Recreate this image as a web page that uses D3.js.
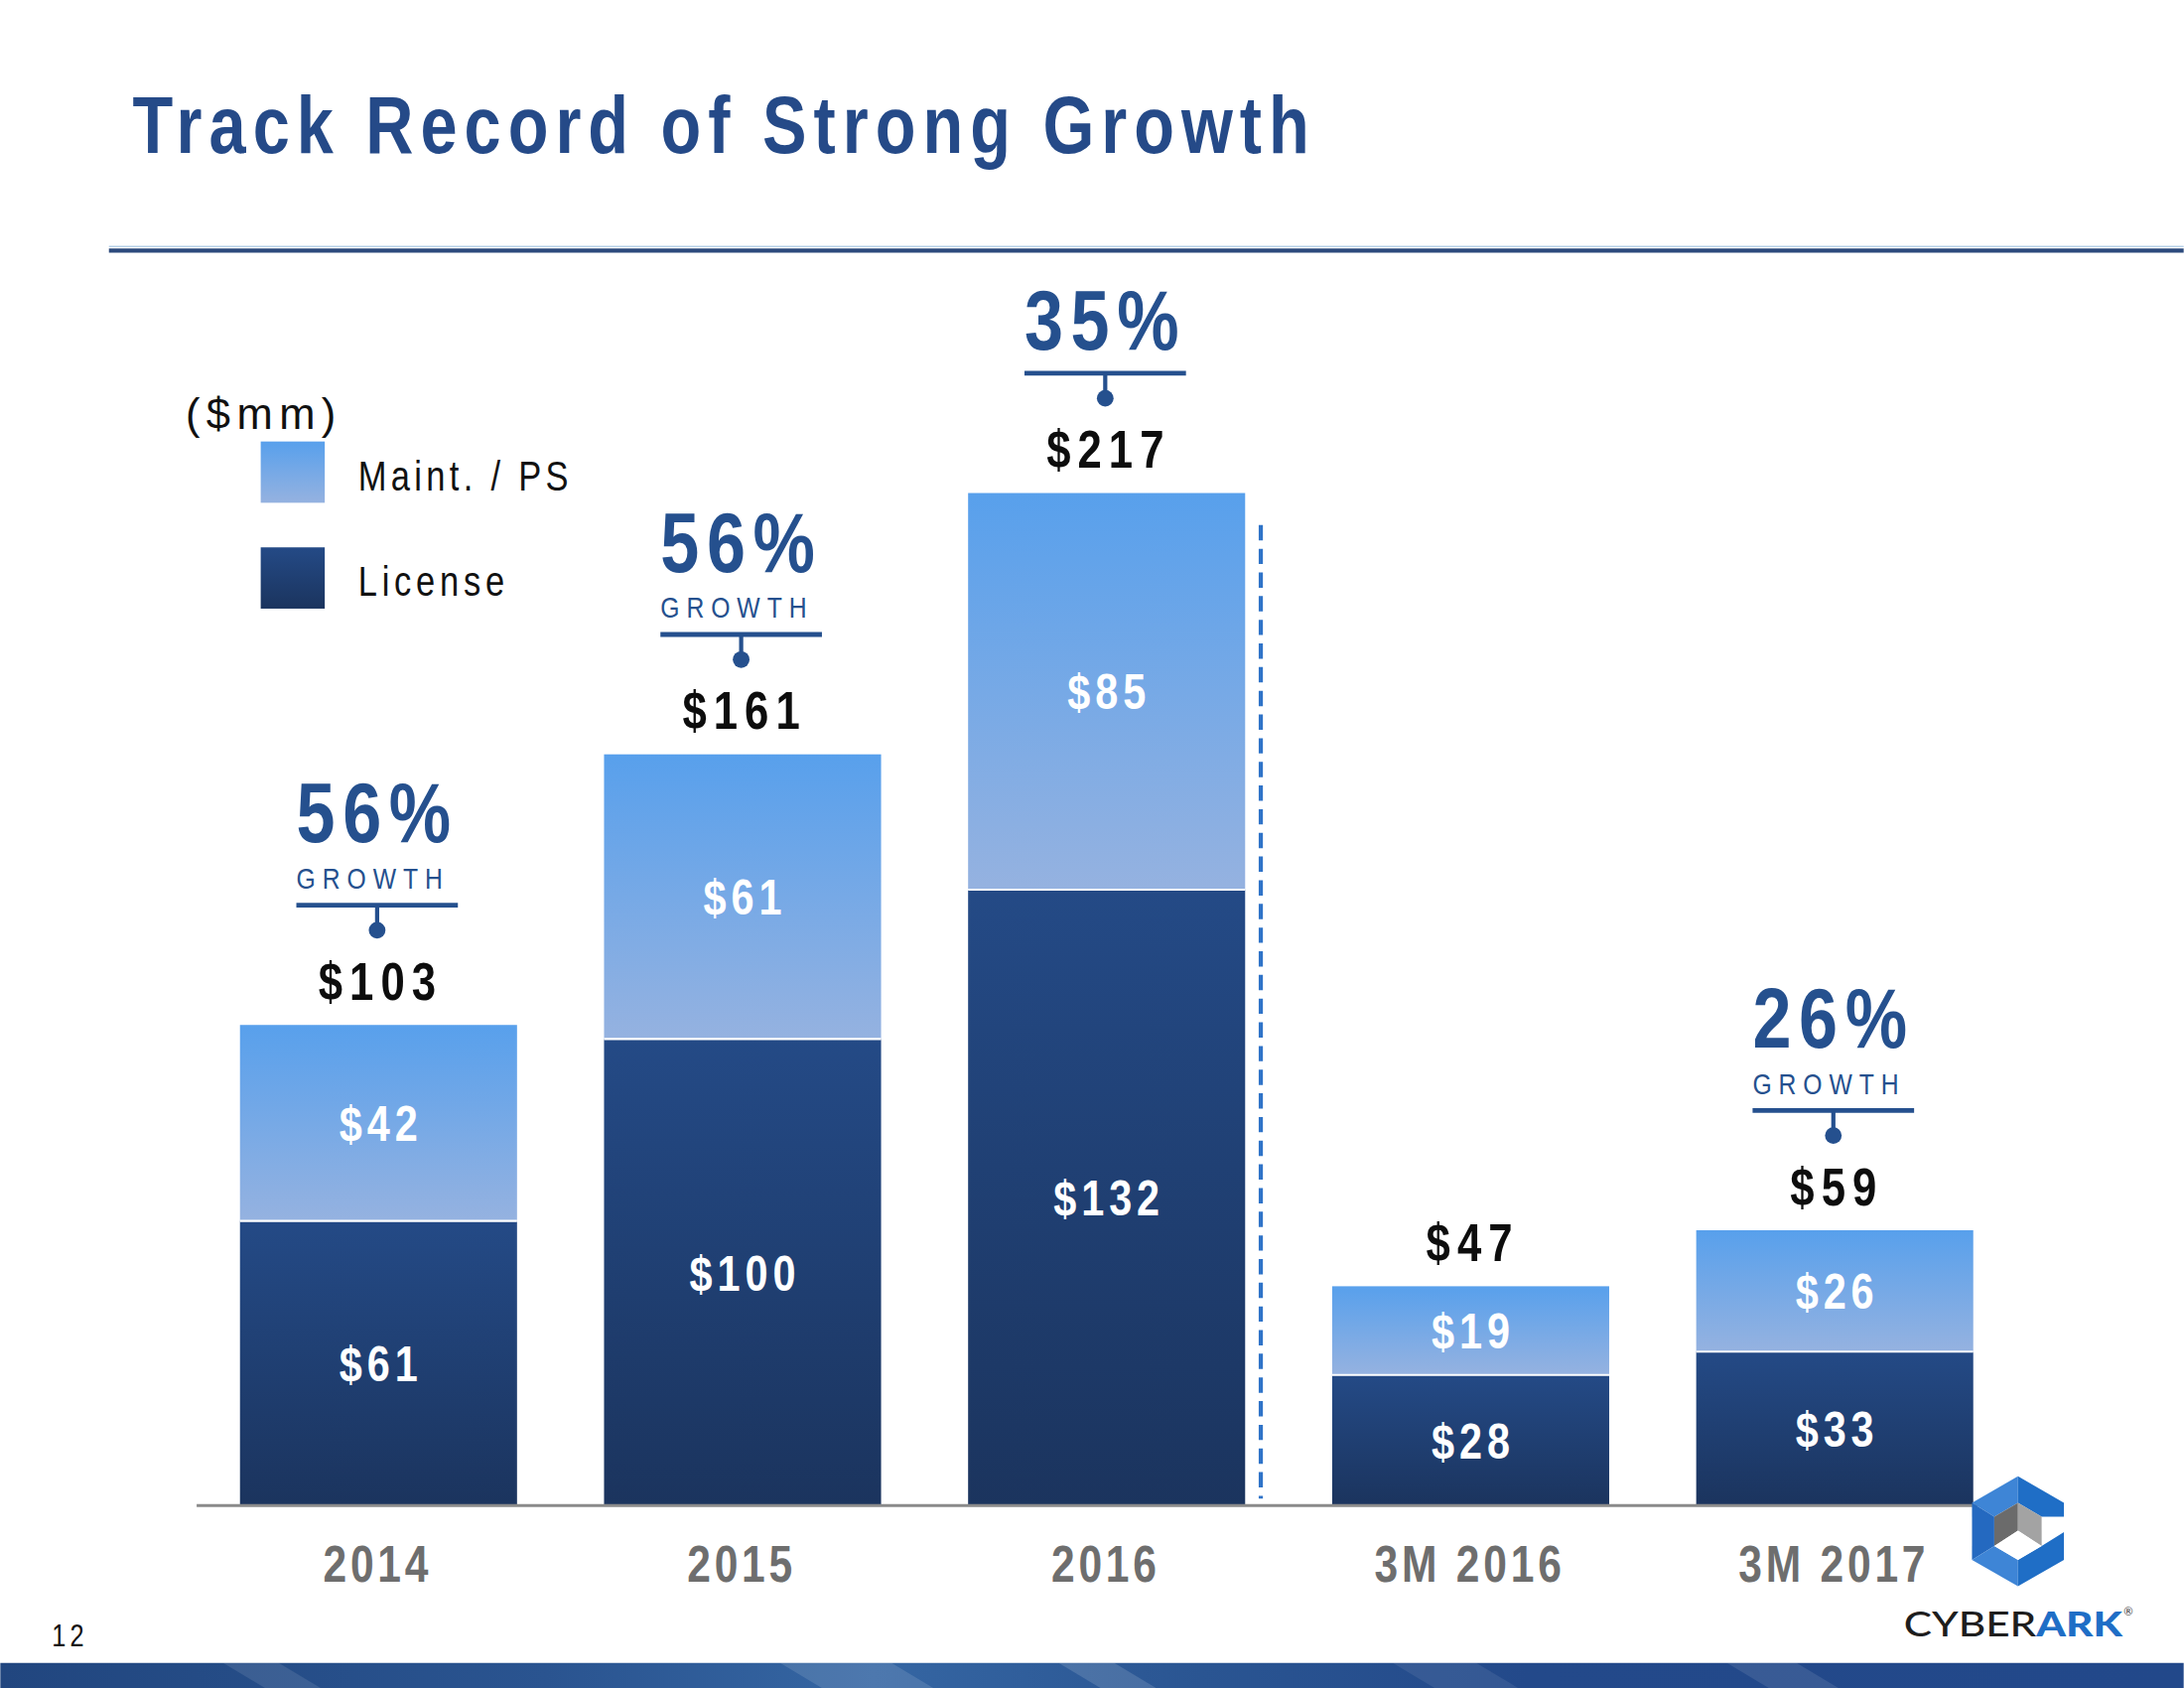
<!DOCTYPE html>
<html>
<head>
<meta charset="utf-8">
<script src="https://cdn.jsdelivr.net/npm/d3@7"></script>
<style>
  body { margin: 0; background: #fff; }
  svg { display: block; }
</style>
</head>
<body>
<svg id="chart"></svg>
<script>
// values in $mm
const categories = ['2014', '2015', '2016', '3M 2016', '3M 2017'];
const license = [61, 100, 132, 28, 33];
const maint = [42, 61, 85, 19, 26];
const totals = [103, 161, 217, 47, 59];
const growthPct = ['56%', '56%', '35%', null, '26%'];
const growthSub = ['GROWTH', 'GROWTH', '', null, 'GROWTH'];
const seriesNames = ['License', 'Maint. / PS'];

// the slide is laid out in a 1568 x 1212 frame, scaled to the window
const W = 1568, H = 1212;
const svg = d3.select('#chart')
    .attr('width', 2200)
    .attr('height', 1700)
    .attr('viewBox', '0 0 ' + W + ' ' + H);

const FONT = '"Liberation Sans", Arial, sans-serif';
const SQ = 0.82; // squeeze Liberation Sans to look like Arial Narrow
const BLUE = '#25508e';

// narrow text: a group that is squeezed horizontally, text inside it
function ntext(parent, px, py, o) {
    let sq = o.sq || SQ;
    let g = parent.append('g').attr('transform', 'translate(' + px + ',' + py + ') scale(' + sq + ',1)');
    let ls = (o.ls || 0) / sq;
    let t = g.append('text')
        .attr('x', o.anchor === 'middle' ? ls / 2 : 0)
        .attr('y', 0)
        .attr('font-family', FONT)
        .attr('font-weight', o.weight || 'normal')
        .attr('font-size', o.size)
        .attr('fill', o.fill || '#111')
        .attr('text-anchor', o.anchor || 'start')
        .attr('letter-spacing', ls);
    if (o.len) t.attr('textLength', o.len / sq).attr('lengthAdjust', 'spacing').attr('letter-spacing', 0);
    if (o.dy) t.attr('dy', o.dy);
    t.text(o.text);
    return t;
}

let defs = svg.append('defs');
let gMaint = defs.append('linearGradient').attr('id', 'gMaint').attr('x1', 0).attr('y1', 0).attr('x2', 0).attr('y2', 1);
gMaint.append('stop').attr('offset', '0%').attr('stop-color', '#58a0ec');
gMaint.append('stop').attr('offset', '100%').attr('stop-color', '#95b2e0');
let gLic = defs.append('linearGradient').attr('id', 'gLic').attr('x1', 0).attr('y1', 0).attr('x2', 0).attr('y2', 1);
gLic.append('stop').attr('offset', '0%').attr('stop-color', '#244a86');
gLic.append('stop').attr('offset', '100%').attr('stop-color', '#1b345e');
let gBand = defs.append('linearGradient').attr('id', 'gBand').attr('x1', 0).attr('y1', 0).attr('x2', 1).attr('y2', 0);
[['0%', '#21467f'], ['25%', '#2a5490'], ['40%', '#3566a3'], ['55%', '#2a5592'], ['70%', '#23498a'], ['100%', '#22488a']]
    .forEach(function(s) { gBand.append('stop').attr('offset', s[0]).attr('stop-color', s[1]); });
let shadow = defs.append('filter').attr('id', 'blur').attr('x', '-10%').attr('y', '-200%').attr('width', '120%').attr('height', '500%');
shadow.append('feGaussianBlur').attr('stdDeviation', 1.5);

// title and rule
ntext(svg, 95, 110, {text: 'Track Record of Strong Growth', size: 58, weight: 'bold', fill: '#254a88', len: 845});

svg.append('line').attr('x1', 78).attr('x2', W).attr('y1', 177).attr('y2', 177)
    .attr('stroke', '#b9d3ea').attr('stroke-width', 1);
svg.append('line').attr('x1', 78).attr('x2', W).attr('y1', 180).attr('y2', 180)
    .attr('stroke', '#2c4a7d').attr('stroke-width', 3);

// scales
let x = d3.scaleBand()
    .domain(categories)
    .range([141, 1448])
    .paddingInner(0.239)
    .paddingOuter(0.119);

let y = d3.scaleLinear()
    .domain([0, 217])
    .range([1081, 354]);

let table = categories.map(function(c, i) {
    return {cat: c, 'License': license[i], 'Maint. / PS': maint[i]};
});
let stacked = d3.stack().keys(seriesNames)(table);

let fills = {'License': 'url(#gLic)', 'Maint. / PS': 'url(#gMaint)'};

let layers = svg.selectAll('.layer')
    .data(stacked)
    .enter()
    .append('g')
    .attr('class', 'layer')
    .attr('fill', function(d) { return fills[d.key]; });

layers.selectAll('rect')
    .data(function(d) { return d; })
    .enter()
    .append('rect')
    .attr('x', function(d) { return x(d.data.cat); })
    .attr('y', function(d) { return y(d[1]); })
    .attr('width', x.bandwidth())
    .attr('height', function(d) { return y(d[0]) - y(d[1]); });

// white divider between segments
svg.selectAll('.divider')
    .data(table)
    .enter()
    .append('line')
    .attr('class', 'divider')
    .attr('x1', function(d) { return x(d.cat); })
    .attr('x2', function(d) { return x(d.cat) + x.bandwidth(); })
    .attr('y1', function(d) { return y(d['License']); })
    .attr('y2', function(d) { return y(d['License']); })
    .attr('stroke', '#fff').attr('stroke-width', 1.5);

// segment labels
stacked.forEach(function(layer) {
    layer.forEach(function(d) {
        ntext(svg, x(d.data.cat) + x.bandwidth() / 2, (y(d[0]) + y(d[1])) / 2 + 13, {
            text: '$' + (d[1] - d[0]), size: 36, weight: 'bold', fill: '#fff', anchor: 'middle', ls: 3.5
        });
    });
});

// totals above bars
totals.forEach(function(d, i) {
    ntext(svg, x(categories[i]) + x.bandwidth() / 2 - 1, y(d) - 18, {
        text: '$' + d, size: 38, weight: 'bold', fill: '#0d0d0d', anchor: 'middle', ls: 5
    });
});

// growth callouts
categories.forEach(function(c, i) {
    if (!growthPct[i]) return;
    let cx = x(c) + x.bandwidth() / 2 - 1;
    let dotY = y(totals[i]) - 18 - 50;
    let lineY = dotY - 18;
    let g = svg.append('g').attr('class', 'growth');
    g.append('line').attr('x1', cx - 57).attr('x2', cx + 57).attr('y1', lineY + 3.5).attr('y2', lineY + 3.5)
        .attr('stroke', '#c4c8cf').attr('stroke-width', 3).attr('filter', 'url(#blur)');
    g.append('line').attr('x1', cx - 58).attr('x2', cx + 58).attr('y1', lineY).attr('y2', lineY)
        .attr('stroke', BLUE).attr('stroke-width', 3.5);
    g.append('line').attr('x1', cx).attr('x2', cx).attr('y1', lineY).attr('y2', dotY)
        .attr('stroke', BLUE).attr('stroke-width', 3);
    g.append('circle').attr('cx', cx).attr('cy', dotY).attr('r', 6).attr('fill', BLUE);
    let pctY = growthSub[i] ? lineY - 45 : lineY - 17;
    ntext(g, cx - 58, pctY, {text: growthPct[i], size: 61, weight: 'bold', fill: BLUE, len: 111});
    if (growthSub[i]) {
        ntext(g, cx - 58, lineY - 12, {text: growthSub[i], size: 21.5, fill: BLUE, len: 105});
    }
});

// dashed separator between full years and quarters
let sepX = (x('2016') + x.bandwidth() + x('3M 2016')) / 2 - 20;
svg.append('line')
    .attr('x1', sepX).attr('x2', sepX)
    .attr('y1', 377).attr('y2', 1076)
    .attr('stroke', '#2f73c8').attr('stroke-width', 3)
    .attr('stroke-dasharray', '11,6');

// baseline
svg.append('line')
    .attr('x1', 141).attr('x2', 1420)
    .attr('y1', 1081).attr('y2', 1081)
    .attr('stroke', '#8a8a8a').attr('stroke-width', 2);

// x axis labels (axis supplies the tick positions, text is squeezed)
let xAxis = d3.axisBottom(x).tickSize(0).tickFormat('');
let axisG = svg.append('g')
    .attr('transform', 'translate(0,1136)')
    .call(xAxis);
axisG.select('.domain').remove();
axisG.selectAll('.tick').each(function(d) {
    ntext(d3.select(this), -2, 0, {text: d, size: 37, weight: 'bold', fill: '#6e6e6e', anchor: 'middle', ls: 2.7});
});

// legend
ntext(svg, 133, 308, {text: '($mm)', size: 32, len: 108, sq: 0.97});

let legendItems = [
    {name: 'Maint. / PS', fill: 'url(#gMaint)', y: 317, len: 151},
    {name: 'License', fill: 'url(#gLic)', y: 393, len: 105}
];
legendItems.forEach(function(d) {
    svg.append('rect')
        .attr('x', 187).attr('y', d.y)
        .attr('width', 46).attr('height', 44)
        .attr('fill', d.fill);
    ntext(svg, 257, d.y + 35, {text: d.name, size: 30, len: d.len});
});

// page number
ntext(svg, 37, 1182, {text: '12', size: 22, len: 23});

// bottom band
svg.append('rect').attr('x', 0).attr('y', 1194).attr('width', W).attr('height', H - 1194)
    .attr('fill', 'url(#gBand)');
[[160, 200, 0.10], [560, 640, 0.12], [760, 800, 0.14], [1000, 1060, 0.08], [1240, 1290, 0.10]]
    .forEach(function(p) {
        svg.append('polygon')
            .attr('points', p[0] + ',1194 ' + p[1] + ',1194 ' + (p[1] + 30) + ',1212 ' + (p[0] + 30) + ',1212')
            .attr('fill', '#fff').attr('opacity', p[2]);
    });

// logo
let logo = svg.append('g').attr('class', 'logo');
let T = [1449, 1060], UR = [1482, 1079], LR = [1482, 1120], B = [1449, 1139], LL = [1416, 1120], UL = [1416, 1079];
let t = [1449, 1079], ur = [1466, 1089], lr = [1466, 1110], b = [1449, 1120], ll = [1432, 1110], ul = [1432, 1089], c = [1449, 1099];
function poly(pts, fill) {
    logo.append('polygon').attr('points', pts.map(function(p) { return p.join(','); }).join(' ')).attr('fill', fill);
}
poly([T, UL, ul, t], '#3e85d6');
poly([T, UR, [1482, 1089], ur, t], '#1f6ec6');
poly([UL, LL, ll, ul], '#2469c0');
poly([LL, B, b, ll], '#3e85d6');
poly([[1482, 1100], LR, B, b, lr], '#1f6ec6');
poly([ul, t, c, ll], '#6b6b6b');
poly([t, ur, lr, c], '#a3a3a3');
poly([ll, c, lr, b], '#ffffff');

logo.append('text')
    .attr('x', 1367).attr('y', 1175)
    .attr('font-family', 'Lato, "Noto Sans", sans-serif').attr('font-size', 25)
    .attr('textLength', 157).attr('lengthAdjust', 'spacingAndGlyphs')
    .call(function(tx) {
        tx.append('tspan').attr('fill', '#1e1e1e').attr('font-weight', 500).text('CYBER');
        tx.append('tspan').attr('fill', '#1f6ec6').attr('font-weight', 900).text('ARK');
    });
logo.append('text')
    .attr('x', 1525).attr('y', 1160)
    .attr('font-family', 'Lato, sans-serif').attr('font-size', 8).attr('fill', '#333')
    .text('®');
</script>
</body>
</html>
